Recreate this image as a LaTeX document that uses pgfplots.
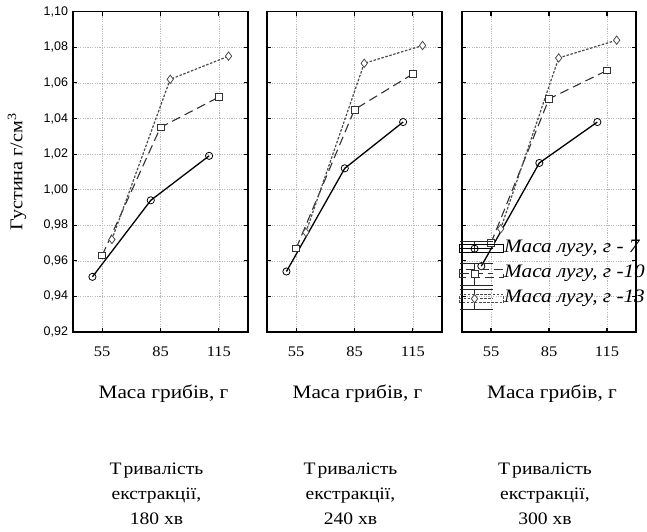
\documentclass[border=0pt]{standalone}
\usepackage{fontspec}
\setmainfont{Liberation Serif}[FakeStretch=1.12]
\newfontfamily\sansw{Liberation Sans}
\usepackage{pgfplots}
\pgfplotsset{compat=1.18}
\pgfplotsset{
  lgimg/.style n args={3}{legend image code/.code={
   \draw[overlay, black!85, line width=1pt, solid] (0pt,#1) -- (33pt,#1) (0pt,#2) -- (33pt,#2) (15pt,#1) -- (15pt,#2);
   \draw[##1] (0pt,0pt) -- (33pt,0pt);
   \draw plot[##1] coordinates {(15pt,0pt)};
   \path (0pt,-4pt) rectangle (#3,4pt);}},
}
\begin{document}
\begin{tikzpicture}
\pgfplotsset{
  panel/.style={
    scale only axis, width=175pt, height=320.3pt, anchor=south west,
    xmin=40, xmax=130, ymin=0.92, ymax=1.10,
    xtick={55,85,115},
    ytick={0.92,0.94,0.96,0.98,1.00,1.02,1.04,1.06,1.08,1.10},
    grid=major,
    major grid style={dash pattern=on 1.2pt off 1.2pt, gray!55, line width=0.5pt},
    tick align=inside, major tick length=4pt,
    axis line style={line width=1.3pt},
    every tick/.style={black, line width=1.1pt},
    /pgf/number format/assume math mode=true,
    xticklabel style={font=\fontsize{14.7}{16}\selectfont, yshift=-11pt},
    yticklabel style={font=\sansw\fontsize{12.5}{14}\selectfont, xshift=-1.5pt,
      /pgf/number format/.cd, fixed, fixed zerofill, precision=2, use comma},
    xlabel={Маса грибів, г},
    xlabel style={at={(rel axis cs:0.5,0)}, anchor=base, yshift=-66pt, xshift=3pt,
      font=\fontsize{19}{21}\selectfont},
    clip=false,
  },
  s1/.style={black, line width=1.3pt, mark=o, mark size=3.6pt,
    mark options={solid, fill=white, line width=0.8pt}},
  s2/.style={black!80, line width=1.1pt, dash pattern=on 9pt off 5pt, mark=square*, mark size=3.4pt,
    mark options={solid, fill=white, draw=black!80, line width=0.8pt}},
  s3/.style={black!70, line width=1.2pt, dash pattern=on 2.5pt off 1.6pt, mark=diamond*, mark size=4.2pt,
    mark options={solid, fill=white, draw=black!70, line width=0.8pt}},
}
\newcommand\bottomtext[1]{%
  \node[font=\fontsize{17.5}{20}\selectfont, anchor=base] at (rel axis cs:0.5,0) [yshift=-142pt, xshift=-4pt] {Т\kern2pt ривалість};
  \node[font=\fontsize{17.5}{20}\selectfont, anchor=base] at (rel axis cs:0.5,0) [yshift=-167pt, xshift=-4pt] {екстракції,};
  \node[font=\fontsize{17.5}{20}\selectfont, anchor=base] at (rel axis cs:0.5,0) [yshift=-192pt, xshift=-4pt] {#1 хв};}
% ---------------- panel 1 ----------------
\begin{axis}[panel, at={(73pt,199pt)},
  ylabel={Густина г/см\textsuperscript{3}},
  ylabel style={at={(rel axis cs:-0.32,0.5)}, anchor=center,
     font=\fontsize{18}{20}\selectfont}]
\addplot[s1] coordinates {(50,0.951) (80,0.994) (110,1.019)};
\addplot[s2] coordinates {(55,0.963) (85,1.035) (115,1.052)};
\addplot[s3] coordinates {(60,0.972) (90,1.062) (120,1.075)};
\bottomtext{180}
\end{axis}
% ---------------- panel 2 ----------------
\begin{axis}[panel, at={(267pt,199pt)}, yticklabels={}]
\addplot[s1] coordinates {(50,0.954) (80,1.012) (110,1.038)};
\addplot[s2] coordinates {(55,0.967) (85,1.045) (115,1.065)};
\addplot[s3] coordinates {(60,0.976) (90,1.071) (120,1.081)};
\bottomtext{240}
\end{axis}
% ---------------- panel 3 ----------------
\begin{axis}[panel, at={(462pt,199pt)}, width=174pt, yticklabels={},
  legend cell align=left,
  legend style={at={(rel axis cs:-0.019,0.182)}, anchor=west, draw=none, fill=none,
    inner sep=0pt, row sep=9pt,
    font=\itshape\fontsize{19}{21}\selectfont,
    nodes={inner xsep=0pt, inner ysep=0pt, text height=12pt, text depth=4pt}}]
\addplot[s1, lgimg={7.5pt}{-3.5pt}{44pt}]
  coordinates {(50,0.957) (80,1.015) (110,1.038)};
\addlegendentry{Маса лугу, г - 7}
\addplot[s2, lgimg={10pt}{-11.5pt}{44pt}]
  coordinates {(55,0.970) (85,1.051) (115,1.067)};
\addlegendentry{Маса лугу, г -10}
\addplot[s3, lgimg={9.5pt}{-10.5pt}{44pt}]
  coordinates {(60,0.978) (90,1.074) (120,1.084)};
\addlegendentry{Маса лугу, г -13}
\bottomtext{300}
\end{axis}
\pgfresetboundingbox
\path[use as bounding box] (0pt,0pt) rectangle (647pt,531pt);
\end{tikzpicture}
\end{document}
